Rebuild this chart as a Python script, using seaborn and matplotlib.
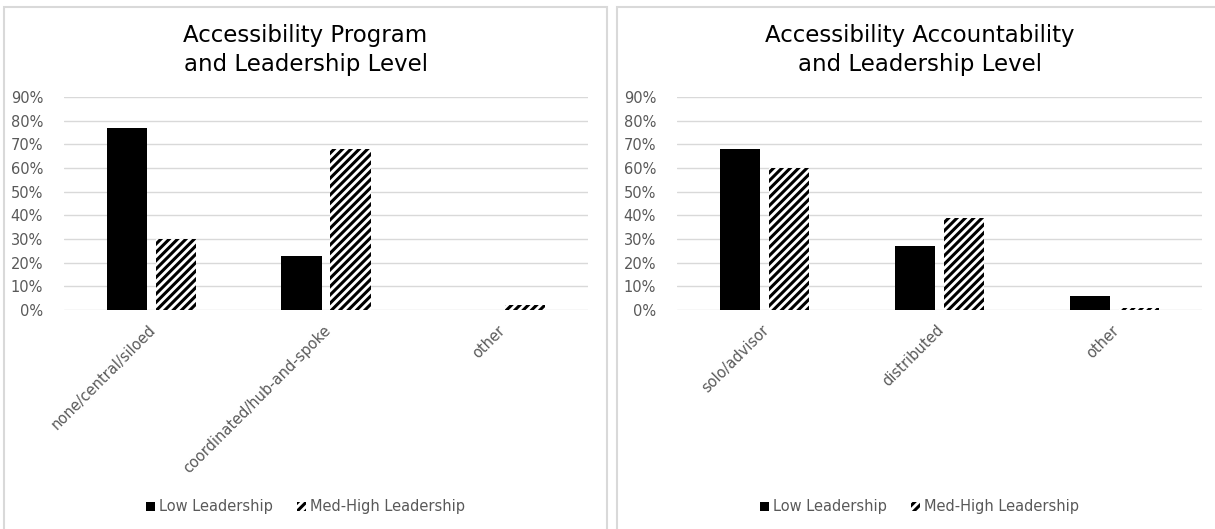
import matplotlib
matplotlib.use("Agg")
import matplotlib.pyplot as plt
import matplotlib.transforms as mtrans
import seaborn as sns
import pandas as pd
from matplotlib.patches import Rectangle, Patch
from matplotlib.ticker import PercentFormatter

# ---- data ----
series = ["Low Leadership", "Med-High Leadership"]

left_title = "Accessibility Program\nand Leadership Level"
left_categories = ["none/central/siloed", "coordinated/hub-and-spoke", "other"]
left_low = [0.77, 0.23, 0.0]
left_medhigh = [0.30, 0.68, 0.02]

right_title = "Accessibility Accountability\nand Leadership Level"
right_categories = ["solo/advisor", "distributed", "other"]
right_low = [0.68, 0.27, 0.06]
right_medhigh = [0.60, 0.39, 0.01]

y_ticks = [0, 0.1, 0.2, 0.3, 0.4, 0.5, 0.6, 0.7, 0.8, 0.9]

sns.set_theme(style="white")
plt.rcParams["font.family"] = ["DejaVu Sans"]
plt.rcParams["hatch.linewidth"] = 2.2

W, H = 1215, 529
fig = plt.figure(figsize=(W / 100, H / 100), dpi=100)
fig.patch.set_facecolor("white")

GRAY = "#595959"
GRID = "#d9d9d9"
FS = 10.5


def make_df(cats, low, med):
    rows = []
    for c, v in zip(cats, low):
        rows.append({"category": c, "series": series[0], "value": v})
    for c, v in zip(cats, med):
        rows.append({"category": c, "series": series[1], "value": v})
    return pd.DataFrame(rows)


def panel(px0, px1, ax_x0, ax_x1, title, cats, low, med):
    # panel border
    fig.add_artist(Rectangle((px0 / W, -0.05), (px1 - px0) / W, 1.05 - 7 / H,
                             transform=fig.transFigure, fill=False,
                             edgecolor=GRID, linewidth=1.5))
    y0 = (H - 310) / H
    y1 = (H - 97) / H
    ax = fig.add_axes([ax_x0 / W, y0, (ax_x1 - ax_x0) / W, y1 - y0])
    df = make_df(cats, low, med)
    sns.barplot(data=df, x="category", y="value", hue="series",
                hue_order=series, order=cats,
                palette=["black", "white"], saturation=1,
                width=0.56, gap=0.18, ax=ax, legend=False)
    for p in ax.containers[1]:
        p.set_hatch("////")
        p.set_edgecolor("black")
        p.set_linewidth(0)
    for p in ax.containers[0]:
        p.set_linewidth(0)
    ax.set_ylim(0, 0.9)
    ax.set_xlim(-0.5, len(cats) - 0.5)
    ax.set_yticks(y_ticks)
    ax.yaxis.set_major_formatter(PercentFormatter(1.0, decimals=0))
    ax.grid(axis="y", color=GRID, linewidth=1)
    ax.set_axisbelow(True)
    for s in ax.spines.values():
        s.set_visible(False)
    ax.tick_params(axis="both", length=0, colors=GRAY, labelsize=FS)
    ax.tick_params(axis="y", pad=15)
    ax.tick_params(axis="x", pad=9)
    ax.set_xlabel("")
    ax.set_ylabel("")
    offset = mtrans.ScaledTranslation(-0.03, 0, fig.dpi_scale_trans)
    for lab in ax.get_xticklabels():
        lab.set_rotation(45)
        lab.set_ha("right")
        lab.set_rotation_mode("anchor")
        lab.set_color(GRAY)
        lab.set_transform(lab.get_transform() + offset)
    # title centered on panel
    cx = (px0 + px1) / 2 / W
    fig.text(cx, 1 - 50 / H, title, ha="center", va="center",
             fontsize=16.5, color="black", linespacing=1.3)
    handles = [Patch(facecolor="black", edgecolor="black", linewidth=0),
               Patch(facecolor="white", edgecolor="black", hatch="////", linewidth=0)]
    leg = fig.legend(handles, series, loc="center", bbox_to_anchor=(cx, 1 - 507 / H),
                     ncol=2, frameon=False, fontsize=FS, handlelength=0.6,
                     handleheight=0.6, handletextpad=0.25, columnspacing=1.7)
    for t in leg.get_texts():
        t.set_color(GRAY)
    return ax


panel(4, 607, 64, 588, left_title, left_categories, left_low, left_medhigh)
panel(617, 1222, 677, 1202, right_title, right_categories, right_low, right_medhigh)

fig.savefig("out.png", dpi=100)
